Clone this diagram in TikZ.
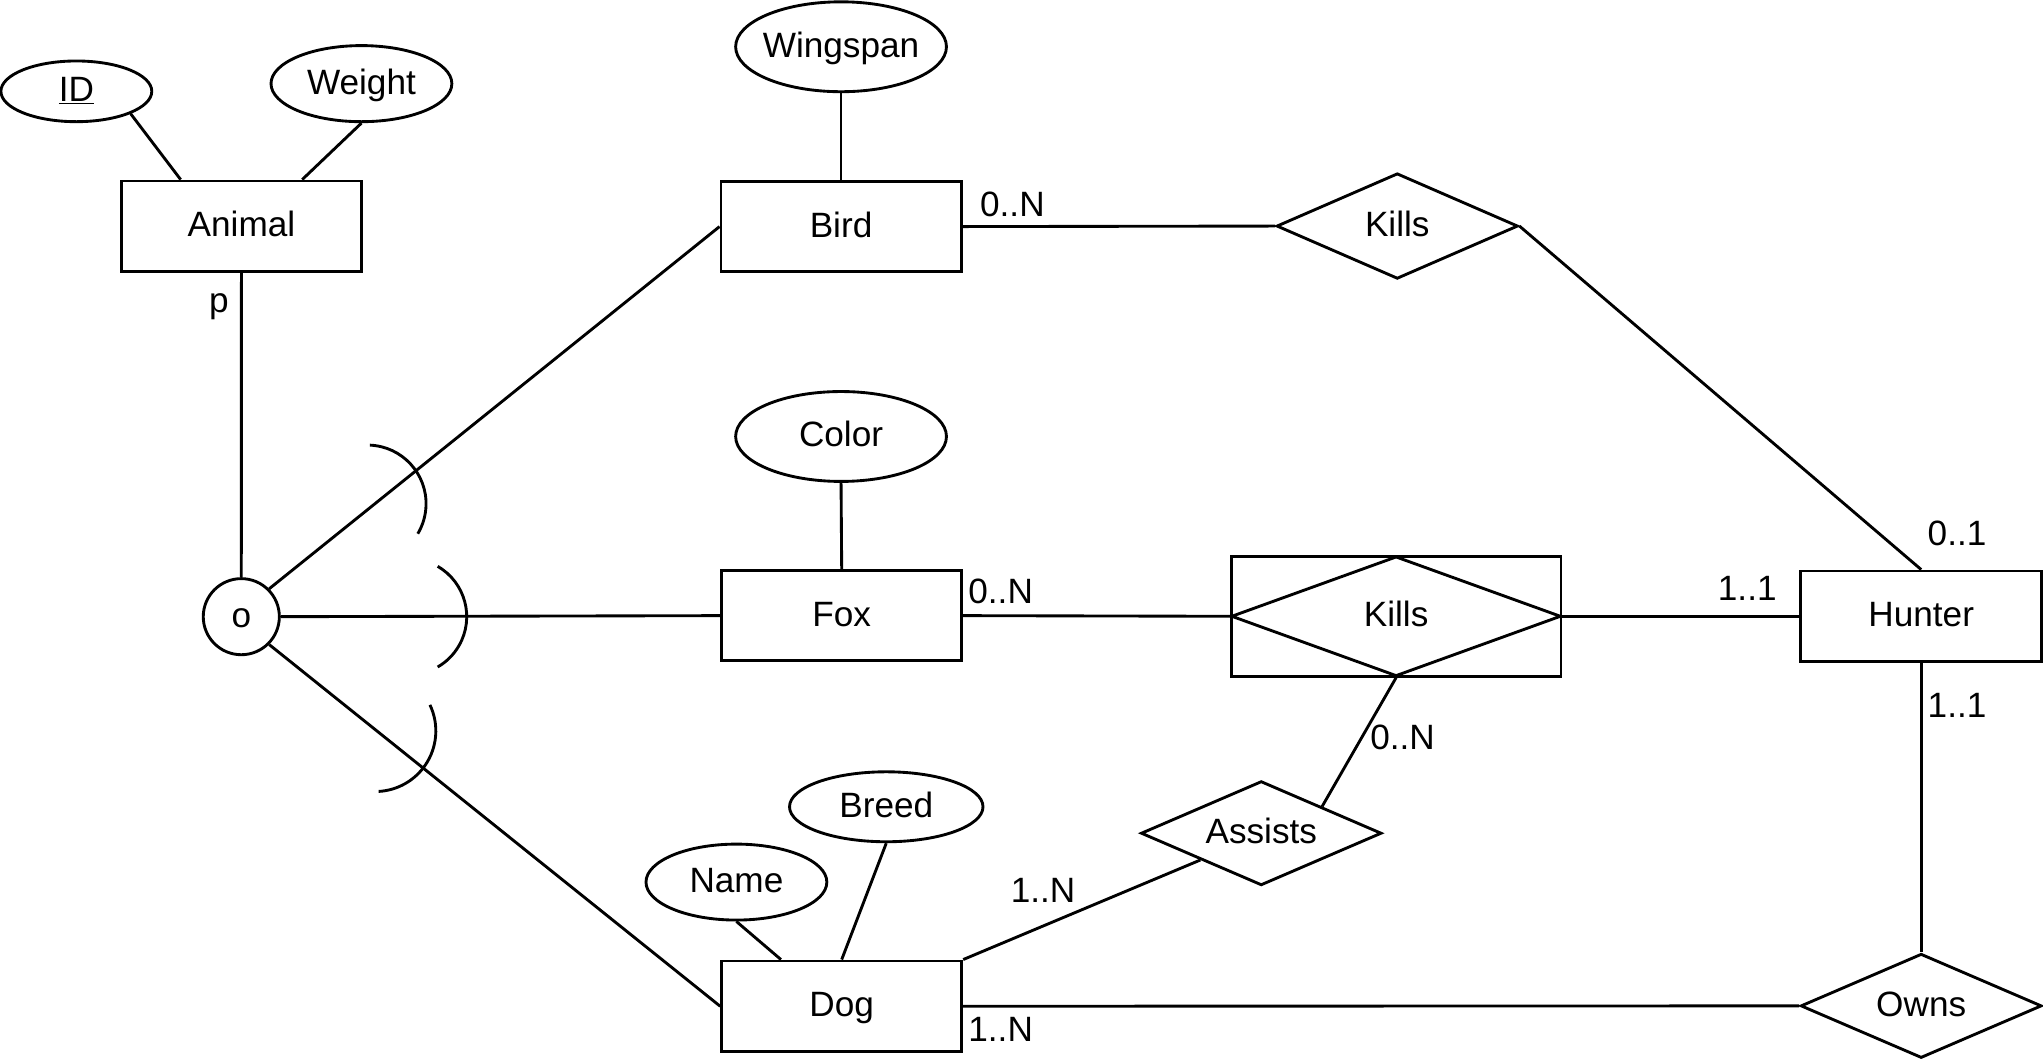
\documentclass[tikz,border=0pt]{standalone}
\usepackage{fontspec}
\setmainfont{Liberation Sans}
\usetikzlibrary{shapes.geometric,calc}
\begin{document}
\begin{tikzpicture}[x=1pt,y=-1pt,
  every node/.style={font=\fontsize{27}{32}\selectfont},
  shp/.style={draw,line width=2.2pt,inner sep=0pt,text height=20pt,text depth=4pt},
  ent/.style={shp,rectangle,minimum width=184.3pt,minimum height=69.5pt},
  attr/.style={shp,ellipse},
  rel/.style={shp,diamond,aspect=2.3},
  conn/.style={line width=2.2pt},
  lbl/.style={anchor=base,inner sep=0pt}]
\useasboundingbox (0,0) rectangle (1568,815.1);

% entities
\node[ent] (animal) at (185.3,173.7) {Animal};
\node[ent] (bird) at (645.5,173.9) {Bird};
\node[ent] (fox) at (646,472.5) {Fox};
\node[ent] (dog) at (646,772.3) {Dog};
\node[ent,minimum width=185pt] (hunter) at (1474.5,473) {Hunter};

% attributes
\node[attr,minimum width=115.8pt,minimum height=46.6pt] (id) at (58.6,70.1) {\makebox[0pt]{\underline{ID}}};
\node[attr,minimum width=138.8pt,minimum height=58.4pt] (weight) at (277.4,64.2) {\makebox[0pt]{Weight}};
\node[attr,minimum width=161.8pt,minimum height=69pt] (wing) at (645.5,35.9) {\makebox[0pt]{Wingspan}};
\node[attr,minimum width=161.8pt,minimum height=69pt] (color) at (645.5,335) {\makebox[0pt]{Color}};
\node[attr,minimum width=138.8pt,minimum height=58.3pt] (name) at (565.2,677) {\makebox[0pt]{Name}};
\node[attr,minimum width=148.5pt,minimum height=53.7pt] (breed) at (680.2,619.2) {\makebox[0pt]{Breed}};

% relationships
\node[rel,minimum width=185.3pt,minimum height=81pt] (kills) at (1072.4,173.5) {Kills};
\node[rel,minimum width=184.7pt,minimum height=80pt] (assists) at (968,639.5) {Assists};
\node[rel,minimum width=185pt,minimum height=80pt] (owns) at (1474.5,772) {Owns};
\node[shp,rectangle,minimum width=253pt,minimum height=92pt] (killsw) at (1071.5,473) {};
\node[rel,minimum width=253pt,minimum height=92pt] (killsd) at (1071.5,473) {Kills};

% specialization circle
\node[shp,circle,minimum size=58.4pt] (o) at (185.2,473.3) {o};

% connectors
\draw[conn] (id.south east) -- ($(animal.north west)!0.25!(animal.north east)$);
\draw[conn] (weight.south) -- ($(animal.north west)!0.75!(animal.north east)$);
\draw[conn] (wing.south) -- (bird.north);
\draw[conn] (color.south) -- (fox.north);
\draw[conn] (name.south) -- ($(dog.north west)!0.25!(dog.north east)$);
\draw[conn] (breed.south) -- (dog.north);
\draw[conn] (animal.south) -- (o.north);
\draw[conn] (o.north east) -- (bird.west);
\draw[conn] (o.east) -- (fox.west);
\draw[conn] (o.south east) -- (dog.west);
\draw[conn] (bird.east) -- (kills.west);
\draw[conn] (kills.east) -- (hunter.north);
\draw[conn] (fox.east) -- (killsw.west);
\draw[conn] (killsw.east) -- (hunter.west);
\draw[conn] (killsd.south) -- (assists.north east);
\draw[conn] (assists.south west) -- (dog.north east);
\draw[conn] (dog.east) -- (owns.west);
\draw[conn] (hunter.south) -- (owns.north);

% subset arcs
\draw[conn] ([shift={(-87.6:45)}]282,386.6) arc[start angle=-87.6,end angle=30.8,radius=45];
\draw[conn] ([shift={(-60:44.6)}]313.6,473.3) arc[start angle=-60,end angle=60,radius=44.6];
\draw[conn] ([shift={(-25.5:46.5)}]288,561) arc[start angle=-25.5,end angle=86.8,radius=46.5];

% cardinality labels
\node[lbl] (lp) at (168,240) {p};
\node[lbl] (l1) at (777,166) {0..N};
\node[lbl] (l2) at (1502,418.7) {0..1};
\node[lbl] (l3) at (768,463) {0..N};
\node[lbl] (l4) at (1341,460.7) {1..1};
\node[lbl] (l5) at (1502,550.5) {1..1};
\node[lbl] (l6) at (1076.5,575.6) {0..N};
\node[lbl] (l7) at (800.5,693) {1..N};
\node[lbl] (l8) at (768,799.5) {1..N};
\end{tikzpicture}
\end{document}
